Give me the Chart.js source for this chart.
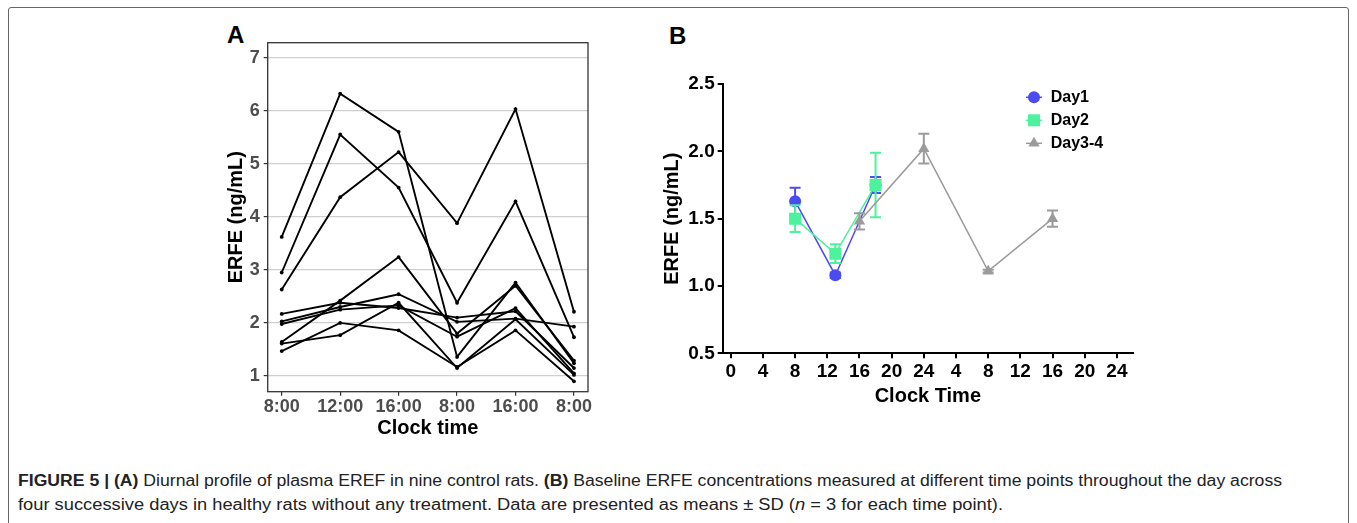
<!DOCTYPE html>
<html>
<head>
<meta charset="utf-8">
<script src="https://cdn.jsdelivr.net/npm/chart.js@4.4.1/dist/chart.umd.min.js"></script>
<style>
  body{margin:0;background:#fff;width:1357px;height:523px;overflow:hidden;position:relative;font-family:"Liberation Sans",Arial,sans-serif}
  .frame{position:absolute;left:8px;top:7px;width:1339px;height:600px;border:1.5px solid #666;border-radius:3px}
  .panel{position:absolute}
  .lbl{position:absolute;font-weight:bold;font-size:24px;color:#000;line-height:24px}
  .cap{position:absolute;left:18px;font-size:16px;color:#222;white-space:nowrap;transform-origin:0 0;line-height:18px}
</style>
</head>
<body>
<div class="frame"></div>
<div class="lbl" style="left:227px;top:23px">A</div>
<div class="lbl" style="left:669px;top:24px">B</div>
<div class="panel" style="left:200px;top:20px"><canvas id="chartA" width="400" height="420"></canvas></div>
<div class="panel" style="left:660px;top:20px"><canvas id="chartB" width="500" height="400"></canvas></div>
<div class="cap" id="cap1" style="top:472px"><b>FIGURE 5 | (A)</b> Diurnal profile of plasma EREF in nine control rats. <b>(B)</b> Baseline ERFE concentrations measured at different time points throughout the day across</div>
<div class="cap" id="cap2" style="top:496px">four successive days in healthy rats without any treatment. Data are presented as means ± SD (<i>n</i> = 3 for each time point).</div>

<script>
// panel A: nine control rats
var timeLabelsA = ['8:00', '12:00', '16:00', '8:00', '16:00', '8:00'];
var yTicksA = [1, 2, 3, 4, 5, 6, 7];
var rat1 = [3.62, 6.32, 5.60, 1.36, 2.76, 1.24];
var rat2 = [2.95, 5.55, 4.55, 2.38, 4.29, 1.73];
var rat3 = [2.63, 4.37, 5.22, 3.88, 6.03, 2.21];
var rat4 = [1.64, 2.42, 3.24, 1.80, 2.70, 1.29];
var rat5 = [1.47, 2.00, 1.86, 1.17, 1.86, 0.90];
var rat6 = [1.61, 1.77, 2.38, 1.15, 2.07, 1.02];
var rat7 = [2.17, 2.38, 2.28, 2.10, 2.22, 1.15];
var rat8 = [2.03, 2.30, 2.54, 2.02, 2.08, 1.93];
var rat9 = [1.98, 2.25, 2.33, 1.74, 2.28, 1.05];
var ratSeries = [rat1, rat2, rat3, rat4, rat5, rat6, rat7, rat8, rat9];

// panel B: means and SD
var hourTicksB = [0, 4, 8, 12, 16, 20, 24, 28, 32, 36, 40, 44, 48];
var yTicksB = [0.5, 1.0, 1.5, 2.0, 2.5];
var day1Hours = [8, 13, 18];
var day1Mean = [1.63, 1.08, 1.75];
var day1Sd = [0.10, 0.02, 0.06];
var day2Hours = [8, 13, 18];
var day2Mean = [1.50, 1.24, 1.75];
var day2Sd = [0.10, 0.07, 0.24];
var day34Hours = [16, 24, 32, 40];
var day34Mean = [1.48, 2.02, 1.11, 1.50];
var day34Sd = [0.06, 0.11, 0.01, 0.06];

var FONT = '"Liberation Sans", Arial, sans-serif';
Chart.defaults.font.family = FONT;

function pts(xs, ys){
    return ys.map(function(v, i){ return {x: xs[i], y: v}; });
}

// ggplot style panel border
var frameA = {
    id: 'frameA',
    afterDraw: function(chart){
        var a = chart.chartArea, ctx = chart.ctx;
        ctx.save();
        ctx.strokeStyle = '#333';
        ctx.lineWidth = 1.3;
        ctx.strokeRect(a.left, a.top, a.right - a.left, a.bottom - a.top);
        ctx.restore();
    }
};

new Chart(document.getElementById('chartA'), {
    type: 'line',
    data: {
        datasets: ratSeries.map(function(s){
            return {
                data: s.map(function(v, i){ return {x: i, y: v}; }),
                borderColor: '#000', backgroundColor: '#000',
                borderWidth: 1.9, pointRadius: 1.9, pointBorderWidth: 0,
                tension: 0
            };
        })
    },
    options: {
        responsive: false, animation: false,
        layout: {padding: {top: 22.7, right: 12, left: 0, bottom: 0}},
        plugins: {legend: {display: false}, tooltip: {enabled: false}},
        scales: {
            x: {
                type: 'linear', min: -0.24, max: 5.24,
                afterBuildTicks: function(s){ s.ticks = timeLabelsA.map(function(l, i){ return {value: i}; }); },
                afterFit: function(s){ s.height = 48.3; },
                ticks: {
                    callback: function(v){ return timeLabelsA[v]; },
                    color: '#4d4d4d', font: {size: 18, weight: 'bold'},
                    padding: 1, maxRotation: 0, autoSkip: false
                },
                grid: {drawOnChartArea: false, tickLength: 4, tickColor: '#333', lineWidth: 1.2},
                border: {display: false},
                title: {display: true, text: 'Clock time', color: '#000', font: {size: 20, weight: 'bold'}, padding: 0}
            },
            y: {
                min: 0.704, max: 7.28,
                afterBuildTicks: function(s){ s.ticks = yTicksA.map(function(v){ return {value: v}; }); },
                afterFit: function(s){ s.width = 67.7; },
                ticks: {color: '#4d4d4d', font: {size: 18, weight: 'bold'}, padding: 4},
                grid: {color: '#cfcfcf', lineWidth: 1.2, tickLength: 4, tickColor: '#333'},
                border: {display: false},
                title: {display: true, text: 'ERFE (ng/mL)', color: '#000', font: {size: 20, weight: 'bold'}, padding: {top: 24.7, bottom: 0}}
            }
        }
    },
    plugins: [frameA]
});

// error bars drawn just before each dataset so markers stay on top
var errorBars = {
    id: 'errorBars',
    beforeDatasetDraw: function(chart, args){
        var ds = chart.data.datasets[args.index];
        if(!ds.sd) return;
        var ctx = chart.ctx, x = chart.scales.x, y = chart.scales.y;
        ctx.save();
        ctx.strokeStyle = ds.borderColor;
        ctx.lineWidth = 2;
        ds.data.forEach(function(p, i){
            var px = x.getPixelForValue(p.x);
            var top = y.getPixelForValue(p.y + ds.sd[i]);
            var bot = y.getPixelForValue(p.y - ds.sd[i]);
            ctx.beginPath();
            ctx.moveTo(px, top); ctx.lineTo(px, bot);
            ctx.moveTo(px - 5.5, top); ctx.lineTo(px + 5.5, top);
            ctx.moveTo(px - 5.5, bot); ctx.lineTo(px + 5.5, bot);
            ctx.stroke();
        });
        ctx.restore();
    }
};

// prism style legend with a line through the marker
var legendB = {
    id: 'legendB',
    afterDraw: function(chart){
        var ctx = chart.ctx;
        chart.data.datasets.forEach(function(ds, i){
            var cx = 374, cy = 77.3 + i * 23;
            ctx.save();
            ctx.strokeStyle = ds.borderColor;
            ctx.fillStyle = ds.backgroundColor;
            ctx.lineWidth = 1.5;
            ctx.beginPath(); ctx.moveTo(cx - 8, cy); ctx.lineTo(cx + 8, cy); ctx.stroke();
            Chart.helpers.drawPoint(ctx, {pointStyle: ds.pointStyle, radius: ds.pointRadius, borderWidth: 0, rotation: 0}, cx, cy);
            ctx.fillStyle = '#000';
            ctx.font = 'bold 16px ' + FONT;
            ctx.textBaseline = 'middle';
            ctx.textAlign = 'left';
            ctx.fillText(ds.label, 390.7, cy);
            ctx.restore();
        });
    }
};

new Chart(document.getElementById('chartB'), {
    type: 'line',
    data: {
        datasets: [
            {label: 'Day1', data: pts(day1Hours, day1Mean), sd: day1Sd, order: 2,
             borderColor: '#4b4bf2', backgroundColor: '#4b4bf2', pointStyle: 'circle', pointRadius: 6},
            {label: 'Day2', data: pts(day2Hours, day2Mean), sd: day2Sd, order: 1,
             borderColor: '#4df29d', backgroundColor: '#4df29d', pointStyle: 'rect', pointRadius: 8.5},
            {label: 'Day3-4', data: pts(day34Hours, day34Mean), sd: day34Sd, order: 0,
             borderColor: '#9b9b9b', backgroundColor: '#9b9b9b', pointStyle: 'triangle', pointRadius: 6.5}
        ].map(function(d){
            d.borderWidth = 1.5; d.pointBorderWidth = 0; d.tension = 0;
            d.pointBackgroundColor = d.backgroundColor; d.pointBorderColor = d.borderColor;
            return d;
        })
    },
    options: {
        responsive: false, animation: false,
        layout: {padding: {top: 64, right: 27, left: 0, bottom: 0}},
        plugins: {legend: {display: false}, tooltip: {enabled: false}},
        scales: {
            x: {
                type: 'linear', min: -1, max: 50,
                afterBuildTicks: function(s){ s.ticks = hourTicksB.map(function(v){ return {value: v}; }); },
                afterFit: function(s){ s.height = 66.7; },
                ticks: {
                    callback: function(v){ return v === 0 ? '0' : String(v % 24 === 0 ? 24 : v % 24); },
                    color: '#000', font: {size: 19, weight: 'bold'}, padding: 2, maxRotation: 0, autoSkip: false
                },
                grid: {drawOnChartArea: false, tickLength: 5, tickColor: '#000', lineWidth: 2},
                border: {display: true, color: '#000', width: 2},
                title: {display: true, text: 'Clock Time', color: '#000', font: {size: 20, weight: 'bold'}, padding: {top: 0, bottom: 11.3}}
            },
            y: {
                min: 0.5, max: 2.5,
                afterBuildTicks: function(s){ s.ticks = yTicksB.map(function(v){ return {value: v}; }); },
                afterFit: function(s){ s.width = 62.7; },
                ticks: {callback: function(v){ return v.toFixed(1); }, color: '#000', font: {size: 19, weight: 'bold'}, padding: 3},
                grid: {drawOnChartArea: false, tickLength: 5, tickColor: '#000', lineWidth: 2},
                border: {display: true, color: '#000', width: 2},
                title: {display: true, text: 'ERFE (ng/mL)', color: '#000', font: {size: 20, weight: 'bold'}, padding: {top: 0.7, bottom: 0}}
            }
        }
    },
    plugins: [errorBars, legendB]
});

// stretch caption lines to the widths they take in the figure
var c1 = document.getElementById('cap1'), c2 = document.getElementById('cap2');
c1.style.transform = 'scaleX(' + (1264 / c1.getBoundingClientRect().width) + ')';
c2.style.transform = 'scaleX(' + (985 / c2.getBoundingClientRect().width) + ')';
</script>
</body>
</html>
